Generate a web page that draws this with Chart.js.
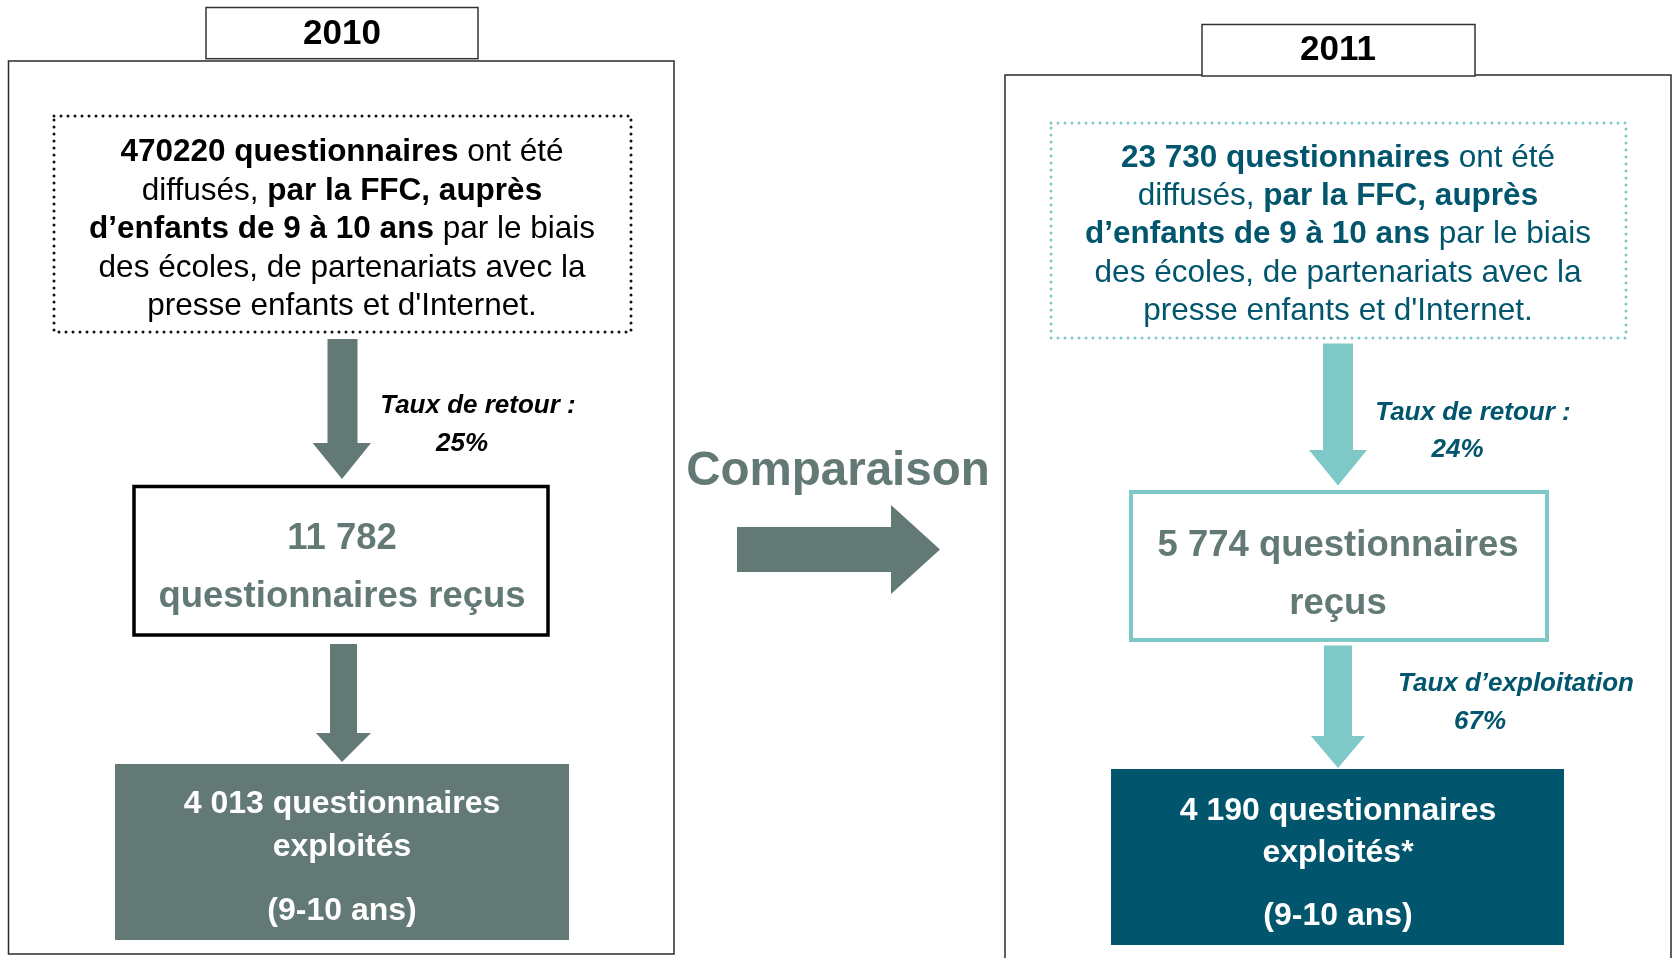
<!DOCTYPE html>
<html>
<head>
<meta charset="utf-8">
<script src="https://cdn.jsdelivr.net/npm/chart.js@4.4.1/dist/chart.umd.min.js"></script>
<style>
html,body{margin:0;padding:0;background:#fff;}
#wrap{position:relative;width:1673px;height:958px;}
</style>
</head>
<body>
<div id="wrap"><canvas id="c"></canvas></div>
<script>
// ---- data ----
const years = ['2010', '2011'];
const distributedText = ['470220', '23 730'];
const received = [11782, 5774];
const exploited = [4013, 4190];
const returnRate = [25, 24];
const exploitRate = [null, 67];
const ageRange = '9-10 ans';
const middleLabel = 'Comparaison';

// ---- styles ----
const GRAY = '#637976';
const TEAL_L = '#7fc8c8';
const TEAL_D = '#01566e';
const FONT = '"Liberation Sans", Arial, Helvetica, sans-serif';
const TEXT_DY = 3;

function fmt(n){ return String(n).replace(/\B(?=(\d{3})+(?!\d))/g, ' '); }

// layout (pixel space of the 1673x958 frame)
const panels = [
  { outer:[8.5,61,674,954], hdr:[206,7.5,478,58.7], hdrTy:31,
    dot:[54,116,631,332], dotColor:'#111', dotW:3, textColor:'#000', lines:[149,188,226,265.5,303], cx:342,
    a1:{s0:327.5,s1:357.5,top:339,hy:443,h0:312.6,h1:371,tip:479},
    lab1:[[478,403],[462,441]], labColor:'#000',
    b2:[134,486.5,548,635], b2Color:'#000', b2W:3.5, b2Lines:[535.6,594], b2Split:true,
    a2:{s0:330,s1:357,top:644,hy:733,h0:316,h1:371,tip:762},
    lab2:null,
    b3:[115,764,569,940], b3Fill:GRAY, b3Lines:[801,844,908], star:'',
    arrowColor:GRAY },
  { outer:[1005,75,1671,962], hdr:[1202,24.5,1475,76], hdrTy:47.5,
    dot:[1051,123,1626,338], dotColor:TEAL_L, dotW:3, textColor:TEAL_D, lines:[155.5,193,231.5,270,308], cx:1338,
    a1:{s0:1323,s1:1353,top:343.5,hy:450,h0:1309,h1:1367,tip:485.5},
    lab1:[[1473,410],[1457.5,447]], labColor:TEAL_D,
    b2:[1131,492,1547,640], b2Color:TEAL_L, b2W:4, b2Lines:[543,601], b2Split:false,
    a2:{s0:1324,s1:1352,top:645.5,hy:736,h0:1311,h1:1365,tip:768},
    lab2:[[1516,681],[1480,719]],
    b3:[1111,769,1564,945], b3Fill:TEAL_D, b3Lines:[808,850,913], star:'*',
    arrowColor:TEAL_L }
];

const diagramPlugin = {
  id:'diagram',
  afterDraw(chart){
    const ctx = chart.ctx;
    const xs = chart.scales.x, ys = chart.scales.y;
    const X = v => xs.getPixelForValue(v), Y = v => ys.getPixelForValue(v);

    function rect(r){ return [X(r[0]), Y(r[1]), X(r[2]) - X(r[0]), Y(r[3]) - Y(r[1])]; }
    function rich(segs, cx, cy, size, color){
      let total = 0;
      segs.forEach(s => { ctx.font = (s.i?'italic ':'') + (s.b?'bold ':'') + size + 'px ' + FONT; s.w = ctx.measureText(s.t).width; total += s.w; });
      let x = X(cx) - total/2;
      ctx.fillStyle = color; ctx.textBaseline = 'middle'; ctx.textAlign = 'left';
      segs.forEach(s => { ctx.font = (s.i?'italic ':'') + (s.b?'bold ':'') + size + 'px ' + FONT; ctx.fillText(s.t, x, Y(cy + TEXT_DY)); x += s.w; });
    }
    function arrowDown(a, cx, color){
      ctx.fillStyle = color;
      ctx.beginPath();
      ctx.moveTo(X(a.s0), Y(a.top)); ctx.lineTo(X(a.s1), Y(a.top)); ctx.lineTo(X(a.s1), Y(a.hy));
      ctx.lineTo(X(a.h1), Y(a.hy)); ctx.lineTo(X(cx), Y(a.tip)); ctx.lineTo(X(a.h0), Y(a.hy));
      ctx.lineTo(X(a.s0), Y(a.hy)); ctx.closePath(); ctx.fill();
    }

    ctx.save();
    panels.forEach((p, i) => {
      // outer frame
      ctx.strokeStyle = '#2b2b2b'; ctx.lineWidth = 1.5; ctx.setLineDash([]);
      ctx.strokeRect(...rect(p.outer));
      // header
      ctx.fillStyle = '#fff'; ctx.fillRect(...rect(p.hdr));
      ctx.strokeStyle = '#333'; ctx.lineWidth = 1.5; ctx.strokeRect(...rect(p.hdr));
      rich([{t:years[i], b:true}], p.cx, p.hdrTy, 35, '#000');
      // dotted box
      ctx.save();
      ctx.strokeStyle = p.dotColor; ctx.lineWidth = p.dotW; ctx.lineCap = 'round';
      ctx.setLineDash([0, 7]);
      ctx.strokeRect(...rect(p.dot));
      ctx.restore();
      const L = [
        [{t:distributedText[i] + ' questionnaires', b:true}, {t:' ont été'}],
        [{t:'diffusés, '}, {t:'par la FFC, auprès', b:true}],
        [{t:'d’enfants de 9 à 10 ans', b:true}, {t:' par le biais'}],
        [{t:'des écoles, de partenariats avec la'}],
        [{t:'presse enfants et d\'Internet.'}]
      ];
      L.forEach((segs, k) => rich(segs, p.cx, p.lines[k], 31.5, p.textColor));
      // arrow 1 + label
      arrowDown(p.a1, p.cx, p.arrowColor);
      rich([{t:'Taux de retour :', b:true, i:true}], p.lab1[0][0], p.lab1[0][1], 26, p.labColor);
      rich([{t:returnRate[i] + '%', b:true, i:true}], p.lab1[1][0], p.lab1[1][1], 26, p.labColor);
      // received box
      ctx.strokeStyle = p.b2Color; ctx.lineWidth = p.b2W; ctx.strokeRect(...rect(p.b2));
      if (p.b2Split){
        rich([{t:fmt(received[i]), b:true}], p.cx, p.b2Lines[0], 36.5, GRAY);
        rich([{t:'questionnaires reçus', b:true}], p.cx, p.b2Lines[1], 36.5, GRAY);
      } else {
        rich([{t:fmt(received[i]) + ' questionnaires', b:true}], p.cx, p.b2Lines[0], 36.5, GRAY);
        rich([{t:'reçus', b:true}], p.cx, p.b2Lines[1], 36.5, GRAY);
      }
      // arrow 2 + label
      arrowDown(p.a2, p.cx, p.arrowColor);
      if (p.lab2 && exploitRate[i] != null){
        rich([{t:'Taux d’exploitation', b:true, i:true}], p.lab2[0][0], p.lab2[0][1], 26, p.labColor);
        rich([{t:exploitRate[i] + '%', b:true, i:true}], p.lab2[1][0], p.lab2[1][1], 26, p.labColor);
      }
      // exploited box
      ctx.fillStyle = p.b3Fill; ctx.fillRect(...rect(p.b3));
      rich([{t:fmt(exploited[i]) + ' questionnaires', b:true}], p.cx, p.b3Lines[0], 32, '#fff');
      rich([{t:'exploités' + p.star, b:true}], p.cx, p.b3Lines[1], 32, '#fff');
      rich([{t:'(' + ageRange + ')', b:true}], p.cx, p.b3Lines[2], 32, '#fff');
    });

    // comparison
    rich([{t:middleLabel, b:true}], 838, 468.5, 47.5, GRAY);
    ctx.fillStyle = GRAY;
    ctx.beginPath();
    ctx.moveTo(X(737), Y(527)); ctx.lineTo(X(891), Y(527)); ctx.lineTo(X(891), Y(505));
    ctx.lineTo(X(940), Y(549.5)); ctx.lineTo(X(891), Y(594)); ctx.lineTo(X(891), Y(572));
    ctx.lineTo(X(737), Y(572)); ctx.closePath(); ctx.fill();
    ctx.restore();
  }
};

new Chart(document.getElementById('c'), {
  type: 'scatter',
  data: { datasets: [{ data: [], pointRadius: 0 }] },
  options: {
    responsive: true, maintainAspectRatio: false, animation: false,
    layout: { padding: 0 },
    plugins: { legend: { display: false }, tooltip: { enabled: false } },
    scales: {
      x: { type: 'linear', min: 0, max: 1673, display: false },
      y: { type: 'linear', min: 0, max: 958, reverse: true, display: false }
    }
  },
  plugins: [diagramPlugin]
});
</script>
</body>
</html>
